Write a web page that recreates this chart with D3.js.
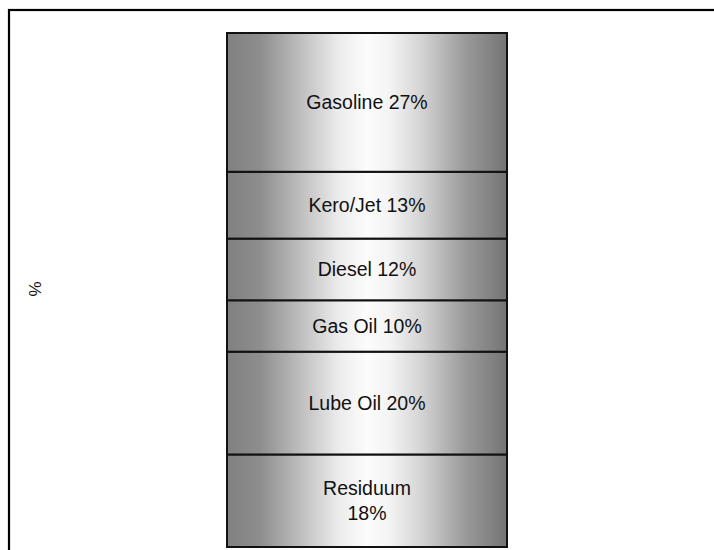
<!DOCTYPE html>
<html>
<head>
<meta charset="utf-8">
<script src="https://cdn.jsdelivr.net/npm/d3@7"></script>
<style>
  body { margin: 0; background: #fff; }
  svg { display: block; font-family: "Liberation Sans", Arial, sans-serif; }
</style>
</head>
<body>
<svg id="chart" width="714" height="550"></svg>
<script>
// stacked from the bottom up
var products = ["Residuum", "Lube Oil", "Gas Oil", "Diesel", "Kero/Jet", "Gasoline"];
var shares = [18, 20, 10, 12, 13, 27];
var labelLines = [["Residuum", "18%"], ["Lube Oil 20%"], ["Gas Oil 10%"], ["Diesel 12%"], ["Kero/Jet 13%"], ["Gasoline 27%"]];
var category = ["Barrel"];

var svg = d3.select("#chart");

// frame, runs off the right and bottom of the page
svg.append("rect")
    .attr("x", 9).attr("y", 10)
    .attr("width", 800).attr("height", 600)
    .attr("fill", "none")
    .attr("stroke", "#000")
    .attr("stroke-width", 2.2);

var defs = svg.append("defs");
var grad = defs.append("linearGradient")
    .attr("id", "metal")
    .attr("x1", "0%").attr("x2", "100%")
    .attr("y1", "0%").attr("y2", "0%");
[[0, "#808080"], [0.12, "#8e8e8e"], [0.28, "#c4c4c4"], [0.4, "#ececec"], [0.5, "#fcfcfc"],
 [0.58, "#f4f4f4"], [0.7, "#d2d2d2"], [0.85, "#9a9a9a"], [1, "#747474"]].forEach(function(s) {
  grad.append("stop").attr("offset", s[0]).attr("stop-color", s[1]);
});

var x = d3.scaleBand()
    .domain(category)
    .range([227, 507]);

var y = d3.scaleLinear()
    .domain([0, 100])
    .range([547, 33]);

var stacked = [];
var acc = 0;
shares.forEach(function(v, i) {
  stacked.push({ name: products[i], y0: acc, y1: acc + v, lines: labelLines[i] });
  acc += v;
});

var seg = svg.selectAll(".seg")
  .data(stacked)
  .enter().append("g")
    .attr("class", "seg");

seg.append("rect")
    .attr("x", x("Barrel"))
    .attr("width", x.bandwidth())
    .attr("y", function(d) { return y(d.y1); })
    .attr("height", function(d) { return y(d.y0) - y(d.y1); })
    .attr("fill", "url(#metal)")
    .attr("stroke", "#111")
    .attr("stroke-width", 2);

seg.each(function(d) {
  var cy = (y(d.y0) + y(d.y1)) / 2;
  var lh = 25;
  var start = cy - (d.lines.length - 1) * lh / 2;
  var t = d3.select(this).append("text")
      .attr("text-anchor", "middle")
      .attr("font-size", 19.5)
      .attr("fill", "#111");
  d.lines.forEach(function(line, k) {
    t.append("tspan")
        .attr("x", x("Barrel") + x.bandwidth() / 2)
        .attr("y", start + k * lh)
        .attr("dy", "0.35em")
        .text(line);
  });
});

svg.append("text")
    .attr("transform", "translate(35,289) rotate(-90)")
    .attr("text-anchor", "middle")
    .attr("dy", "0.35em")
    .attr("font-size", 17)
    .attr("fill", "#111")
    .text("%");
</script>
</body>
</html>
